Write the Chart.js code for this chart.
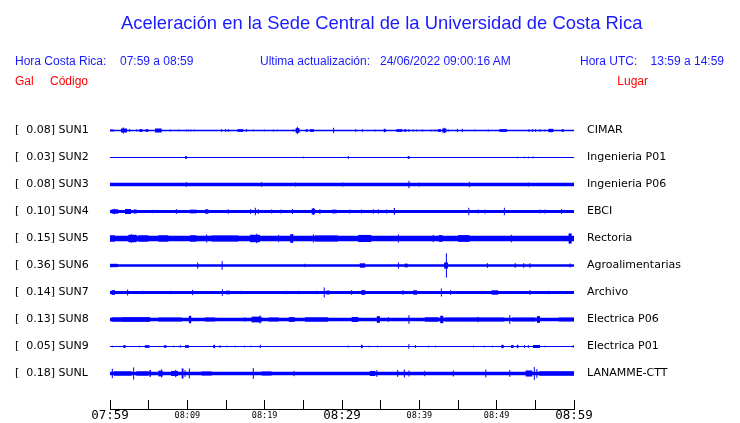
<!DOCTYPE html>
<html><head><meta charset="utf-8">
<script src="https://cdn.jsdelivr.net/npm/chart.js@4"></script>
<style>
html,body{margin:0;padding:0;background:#fff;}
#wrap{position:relative;width:740px;height:423px;overflow:hidden;background:#fff;}
#c{position:absolute;left:0;top:0;}
.t{position:absolute;white-space:pre;font-family:"Liberation Sans",Arial,sans-serif;font-size:12px;line-height:12px;color:#1a1aff;}
.r{color:#ff0000;}
#title{font-size:18.4px;line-height:18.4px;}
</style></head>
<body><div id="wrap">
<canvas id="c" width="740" height="423"></canvas>
<div class="t" id="title" style="left:121px;top:14px">Aceleración en la Sede Central de la Universidad de Costa Rica</div>
<div class="t" style="left:15px;top:55px">Hora Costa Rica:</div>
<div class="t" style="left:120px;top:55px">07:59 a 08:59</div>
<div class="t" style="left:260px;top:55px">Ultima actualización:</div>
<div class="t" style="left:380px;top:55px">24/06/2022 09:00:16 AM</div>
<div class="t" style="left:580px;top:55px">Hora UTC:</div>
<div class="t" style="right:16px;top:55px">13:59 a 14:59</div>
<div class="t r" style="left:15px;top:75px">Gal</div>
<div class="t r" style="left:50px;top:75px">Código</div>
<div class="t r" style="right:92px;top:75px">Lugar</div>
</div>
<script>
// ---- data ----
const codes  = ["SUN1","SUN2","SUN3","SUN4","SUN5","SUN6","SUN7","SUN8","SUN9","SUNL"];
const peaks  = ["0.08","0.03","0.08","0.10","0.15","0.36","0.14","0.13","0.05","0.18"];
const places = ["CIMAR","Ingenieria P01","Ingenieria P06","EBCI","Rectoria","Agroalimentarias","Archivo","Electrica P06","Electrica P01","LANAMME-CTT"];
// background noise half-amplitude (gal)
const noise  = [0.02,0.015,0.05,0.044,0.08,0.038,0.044,0.05,0.018,0.055];
const timeLabels  = ["07:59","08:09","08:19","08:29","08:39","08:49","08:59"];
const tickMinutes = [0,5,10,15,20,25,30,35,40,45,50,55,60];
// events: [start minute, end minute, half-amplitude gal]
const sun1Events = [[0.13,0.13,0.04],[0.39,0.39,0.04],[1.42,2.2,0.06],[1.72,1.72,0.09],[2.54,2.54,0.04],[3.45,3.45,0.03],[3.79,4.22,0.04],[4.61,4.96,0.04],[5.82,6.68,0.06],[7.8,7.8,0.03],[8.92,8.92,0.025],[9.87,9.87,0.025],[10.13,10.13,0.025],[10.47,10.47,0.025],[10.9,10.9,0.025],[14.44,14.44,0.04],[14.96,14.96,0.04],[15.3,15.3,0.04],[16.47,17.24,0.04],[17.67,17.67,0.04],[18.53,18.53,0.03],[19.96,19.96,0.025],[21.12,21.12,0.03],[21.64,21.64,0.025],[23.7,23.7,0.03],[24.0,24.5,0.07],[24.22,24.22,0.11],[25.3,25.56,0.04],[25.86,26.38,0.04],[28.92,28.92,0.08],[31.77,31.77,0.04],[32.63,32.63,0.04],[34.27,34.27,0.03],[35.39,35.65,0.05],[37.03,37.8,0.04],[38.06,38.32,0.04],[38.66,38.66,0.04],[39.22,39.22,0.03],[39.66,39.66,0.03],[40.39,40.39,0.03],[41.51,41.51,0.03],[42.03,42.03,0.03],[42.37,42.8,0.04],[42.97,43.49,0.06],[43.23,43.23,0.08],[43.75,43.75,0.03],[44.91,44.91,0.05],[45.56,45.56,0.05],[47.2,47.2,0.025],[48.92,48.92,0.03],[50.34,51.34,0.04],[54.18,54.18,0.04],[54.66,54.66,0.04],[55.04,55.04,0.04],[55.6,55.6,0.04],[56.25,56.25,0.03],[56.68,57.33,0.05],[58.4,58.66,0.04]];
const sun2Events = [[9.7,9.96,0.04],[25.0,25.0,0.025],[30.82,30.82,0.04],[38.49,38.75,0.04],[52.67,52.67,0.025],[53.58,53.58,0.025],[54.1,54.1,0.025],[54.7,54.7,0.025]];
const sun3Events = [[9.87,9.87,0.07],[19.6,19.6,0.07],[24.0,24.0,0.06],[30.1,30.1,0.06],[38.66,38.66,0.11],[40.0,40.0,0.06],[46.47,46.47,0.08],[54.1,54.1,0.06]];
const sun4Events = [[0.2,1.08,0.065],[0.56,0.56,0.08],[1.94,2.72,0.075],[3.06,3.45,0.06],[5.5,5.5,0.05],[8.58,8.58,0.07],[10.34,11.2,0.055],[12.28,12.72,0.065],[15.3,15.3,0.065],[18.19,18.19,0.07],[18.79,18.79,0.11],[19.18,19.18,0.07],[20.9,20.9,0.06],[22.1,22.1,0.06],[23.6,23.6,0.07],[26.08,26.5,0.085],[26.3,26.3,0.1],[27.15,27.15,0.07],[28.7,29.3,0.055],[31.03,31.03,0.06],[32.54,32.54,0.06],[34.05,34.05,0.065],[34.7,34.7,0.065],[35.78,35.78,0.06],[36.7,36.85,0.1],[46.4,46.4,0.11],[47.6,47.6,0.06],[48.5,48.5,0.06],[51.0,51.0,0.11],[55.6,55.6,0.06],[56.25,56.25,0.06],[58.4,58.4,0.07]];
const sun5Events = [[0.0,0.65,0.095],[2.37,3.45,0.11],[2.8,2.8,0.13],[3.66,4.96,0.095],[6.25,7.55,0.095],[10.34,11.2,0.095],[12.5,12.5,0.12],[13.1,16.6,0.09],[18.1,19.4,0.11],[18.97,18.97,0.14],[21.8,21.8,0.11],[23.3,23.7,0.13],[26.3,26.3,0.12],[26.5,29.5,0.09],[32.1,33.8,0.105],[37.3,37.3,0.12],[41.8,41.8,0.11],[42.5,43.0,0.1],[45.0,46.5,0.1],[51.9,51.9,0.11],[59.3,59.7,0.15]];
const sun6Events = [[0.0,1.0,0.05],[11.34,11.34,0.09],[14.5,14.5,0.13],[25.2,25.2,0.05],[32.3,33.0,0.065],[37.3,37.3,0.09],[38.1,38.5,0.055],[43.2,43.7,0.09],[43.5,43.5,0.36],[48.8,48.8,0.07],[52.4,52.4,0.07],[53.5,53.5,0.07],[54.3,54.3,0.07],[59.5,59.5,0.06]];
const sun7Events = [[0.2,0.65,0.07],[2.28,2.28,0.09],[4.2,4.2,0.05],[7.9,7.9,0.05],[10.69,10.69,0.08],[14.53,14.53,0.1],[15.0,15.5,0.055],[17.0,17.0,0.05],[22.8,22.8,0.05],[24.4,24.4,0.05],[26.7,26.7,0.05],[27.7,27.7,0.15],[28.0,28.4,0.06],[31.25,31.25,0.07],[32.5,33.0,0.07],[37.9,37.9,0.07],[39.2,39.7,0.065],[42.85,42.85,0.12],[44.05,44.05,0.07],[49.35,50.2,0.065],[54.3,54.3,0.07],[56.7,56.7,0.05]];
const sun8Events = [[0.2,1.5,0.065],[1.5,5.2,0.07],[6.25,9.3,0.06],[10.2,10.5,0.11],[12.3,13.6,0.06],[17.46,17.46,0.07],[18.3,19.6,0.085],[19.4,19.4,0.12],[20.5,21.8,0.06],[23.1,23.9,0.07],[25.2,28.2,0.065],[31.25,32.1,0.075],[34.5,34.9,0.1],[36.0,36.0,0.07],[38.66,38.66,0.13],[40.7,42.5,0.065],[42.7,43.1,0.11],[43.3,51.0,0.06],[47.6,47.6,0.08],[51.7,51.7,0.13],[52.0,55.0,0.058],[55.2,55.6,0.1],[58.0,60.0,0.058]];
const sun9Events = [[0.3,0.3,0.025],[1.72,2.03,0.04],[3.8,3.8,0.025],[4.5,5.1,0.04],[7.0,7.3,0.04],[8.2,8.2,0.025],[9.1,9.1,0.035],[9.7,10.2,0.04],[13.36,13.6,0.05],[14.1,14.3,0.03],[15.1,15.1,0.025],[16.2,16.2,0.025],[17.4,17.4,0.025],[18.2,18.2,0.025],[19.44,19.44,0.05],[30.8,30.8,0.03],[32.46,32.67,0.05],[33.5,33.5,0.025],[34.6,34.6,0.025],[38.6,38.7,0.07],[39.5,39.5,0.04],[41.2,41.2,0.025],[42.1,42.1,0.025],[47.0,47.0,0.025],[48.4,48.4,0.025],[49.45,49.45,0.025],[50.6,50.9,0.05],[51.85,52.2,0.04],[52.6,52.8,0.05],[53.6,53.6,0.04],[54.1,54.1,0.04],[54.7,55.6,0.045],[56.25,56.25,0.025],[59.9,59.9,0.04]];
const sunlEvents = [[0.3,0.3,0.14],[0.5,2.8,0.065],[3.06,3.06,0.18],[3.4,5.0,0.065],[5.1,5.3,0.1],[6.25,6.8,0.085],[6.68,6.68,0.12],[7.9,8.8,0.075],[8.5,8.5,0.11],[9.27,9.5,0.15],[9.7,9.7,0.1],[10.26,10.26,0.15],[11.85,13.15,0.06],[18.53,18.53,0.16],[19.6,20.9,0.06],[23.8,23.8,0.08],[33.6,34.3,0.075],[34.5,34.5,0.1],[37.2,37.2,0.1],[38.06,38.06,0.12],[38.66,38.66,0.09],[40.7,40.7,0.08],[44.4,44.4,0.09],[48.6,48.6,0.12],[51.7,51.7,0.1],[53.75,54.6,0.09],[54.87,54.87,0.19],[55.2,55.2,0.13],[55.5,60.0,0.065]];

const traces = [sun1Events,sun2Events,sun3Events,sun4Events,sun5Events,sun6Events,sun7Events,sun8Events,sun9Events,sunlEvents];

// ---- layout / style ----
const SPACING = 0.8;           // gal between trace baselines
const BLUE = '#0000ff';
const centers = codes.map((_, i) => -SPACING * i);
const leftLabels = codes.map((c, i) => '[  ' + peaks[i] + '] ' + c);

function ampPx(chart, a) {
  const y = chart.scales.y;
  return Math.abs(y.getPixelForValue(a) - y.getPixelForValue(0));
}
function durPx(chart, d) {
  const x = chart.scales.x;
  return Math.abs(x.getPixelForValue(d) - x.getPixelForValue(0));
}

const datasets = [];
traces.forEach((ev, i) => {
  const c = centers[i];
  datasets.push({
    type: 'line', data: [{x: 0, y: c}, {x: 60, y: c}],
    borderColor: BLUE, borderCapStyle: 'butt', pointRadius: 0, tension: 0,
    borderWidth: ctx => Math.max(1, 2 * ampPx(ctx.chart, noise[i])),
    yAxisID: 'y'
  });
  datasets.push({
    type: 'scatter',
    data: ev.map(e => ({x: (e[0] + e[1]) / 2, y: c, a: e[2], d: e[1] - e[0]})),
    pointStyle: 'line', pointRotation: 90,
    pointRadius: ctx => ctx.raw ? ampPx(ctx.chart, ctx.raw.a) : 0,
    pointBorderWidth: ctx => ctx.raw ? Math.max(1, durPx(ctx.chart, ctx.raw.d)) : 1,
    pointBorderColor: BLUE, pointBackgroundColor: BLUE,
    yAxisID: 'y'
  });
});

const Y_MAX = 0.8148, Y_MIN = -8.2519;
const labelFont = {family: 'DejaVu Sans', size: 11};

new Chart(document.getElementById('c'), {
  type: 'scatter',
  data: {datasets},
  options: {
    responsive: false, animation: false, devicePixelRatio: 1, events: [],
    layout: {autoPadding: false, padding: {left: 15, top: 103, right: 0, bottom: 0}},
    plugins: {legend: {display: false}, tooltip: {enabled: false}, title: {display: false}},
    scales: {
      x: {
        type: 'linear', position: 'bottom', min: 0, max: 60,
        afterBuildTicks: s => { s.ticks = tickMinutes.map(v => ({value: v})); },
        afterFit: s => { s.height = 14; },
        ticks: {
          autoSkip: false, maxRotation: 0, minRotation: 0, padding: 9, color: '#000',
          callback: v => (v % 10 === 0 ? timeLabels[v / 10] : ''),
          font: ctx => ({family: 'DejaVu Sans Mono', size: (ctx.tick && ctx.tick.value % 30 === 0) ? 12.5 : 8.5, lineHeight: '14px'})
        },
        grid: {display: true, drawOnChartArea: false, drawTicks: true, tickLength: -9, color: '#000', lineWidth: 1},
        border: {display: true, color: '#000', width: 1}
      },
      y: {
        type: 'linear', position: 'left', min: Y_MIN, max: Y_MAX,
        afterBuildTicks: s => { s.ticks = centers.map(v => ({value: v})); },
        afterFit: s => { s.width = 95; },
        ticks: {autoSkip: false, crossAlign: 'far', padding: 0, color: '#000', font: labelFont,
          callback: (v, i) => leftLabels[i]},
        grid: {display: false, drawTicks: false},
        border: {display: false}
      },
      y2: {
        type: 'linear', position: 'right', min: Y_MIN, max: Y_MAX,
        afterBuildTicks: s => { s.ticks = centers.map(v => ({value: v})); },
        afterFit: s => { s.width = 166; },
        ticks: {autoSkip: false, crossAlign: 'near', padding: 0, color: '#000', font: labelFont,
          callback: (v, i) => places[i]},
        grid: {display: false, drawTicks: true, tickLength: 13},
        border: {display: false}
      }
    }
  }
});
</script>
</body></html>
